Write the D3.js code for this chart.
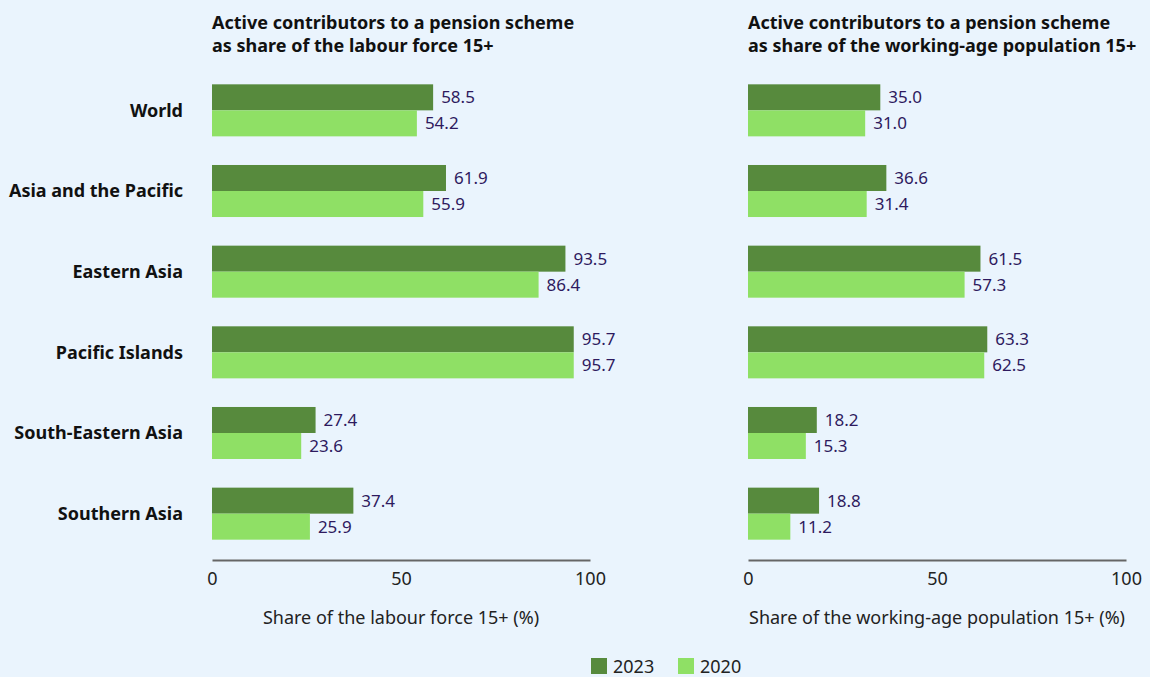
<!DOCTYPE html>
<html>
<head>
<meta charset="utf-8">
<script src="https://cdn.jsdelivr.net/npm/d3@7"></script>
<style>
  body { margin: 0; background: #eaf4fd; }
  svg { display: block; font-family: "Noto Sans", "Open Sans", sans-serif; }
</style>
</head>
<body>
<div id="chart"></div>
<script>
var width = 1150,
    height = 677;

var regions = ["World", "Asia and the Pacific", "Eastern Asia", "Pacific Islands", "South-Eastern Asia", "Southern Asia"];
var years = ["2023", "2020"];

// share of the labour force 15+
var labour2023 = [58.5, 61.9, 93.5, 95.7, 27.4, 37.4];
var labour2020 = [54.2, 55.9, 86.4, 95.7, 23.6, 25.9];

// share of the working-age population 15+
var working2023 = [35.0, 36.6, 61.5, 63.3, 18.2, 18.8];
var working2020 = [31.0, 31.4, 57.3, 62.5, 15.3, 11.2];

var xTicks = [0, 50, 100];

var colors = {"2023": "#578a3d", "2020": "#8fe065"};

var svg = d3.select("#chart").append("svg")
    .attr("width", width)
    .attr("height", height);

var y = d3.scaleBand()
    .domain(regions)
    .range([69, 555])
    .paddingInner(0.355)
    .paddingOuter(0.19);

var ySub = d3.scaleBand()
    .domain(years)
    .range([0, y.bandwidth()]);

// category labels
svg.append("g").selectAll("text")
    .data(regions)
  .enter().append("text")
    .attr("x", 183)
    .attr("y", function(d) { return y(d) + y.bandwidth() / 2; })
    .attr("dy", "0.35em")
    .attr("text-anchor", "end")
    .style("font-size", "18px")
    .style("font-weight", "bold")
    .style("fill", "#111")
    .text(function(d) { return d; });

function panel(x0, x1, title, axisTitle, v2023, v2020) {
  var x = d3.scaleLinear().domain([0, 100]).range([x0, x1]);
  var g = svg.append("g");

  var t = g.append("text")
      .attr("x", x0)
      .attr("y", 29)
      .style("font-size", "18px")
      .style("font-weight", "bold")
      .style("fill", "#111");
  t.append("tspan").attr("x", x0).text(title[0]);
  t.append("tspan").attr("x", x0).attr("dy", 23).text(title[1]);

  var rows = regions.map(function(r, i) {
    return [{region: r, year: "2023", value: v2023[i]}, {region: r, year: "2020", value: v2020[i]}];
  });
  rows = [].concat.apply([], rows);

  g.selectAll("rect")
      .data(rows)
    .enter().append("rect")
      .attr("x", x(0))
      .attr("y", function(d) { return y(d.region) + ySub(d.year); })
      .attr("width", function(d) { return x(d.value) - x(0); })
      .attr("height", ySub.bandwidth())
      .attr("fill", function(d) { return colors[d.year]; });

  g.selectAll("text.val")
      .data(rows)
    .enter().append("text")
      .attr("class", "val")
      .attr("x", function(d) { return x(d.value) + 8; })
      .attr("y", function(d) { return y(d.region) + ySub(d.year) + ySub.bandwidth() / 2; })
      .attr("dy", "0.35em")
      .style("font-size", "17px")
      .style("fill", "#2e1a5e")
      .text(function(d) { return d.value.toFixed(1); });

  var axis = g.append("g")
      .attr("transform", "translate(0,560)")
      .call(d3.axisBottom(x).tickValues(xTicks).tickSize(0).tickPadding(12));
  axis.select(".domain").attr("stroke", "#666").attr("stroke-width", 2);
  axis.selectAll("text")
      .style("font-size", "18px")
      .style("font-family", "\"Noto Sans\", \"Open Sans\", sans-serif")
      .style("fill", "#222");

  g.append("text")
      .attr("x", (x0 + x1) / 2)
      .attr("y", 624)
      .attr("text-anchor", "middle")
      .style("font-size", "18px")
      .style("fill", "#222")
      .text(axisTitle);
}

panel(212, 590,
  ["Active contributors to a pension scheme", "as share of the labour force 15+"],
  "Share of the labour force 15+ (%)", labour2023, labour2020);

panel(748, 1126,
  ["Active contributors to a pension scheme", "as share of the working-age population 15+"],
  "Share of the working-age population 15+ (%)", working2023, working2020);

// legend
var legend = svg.append("g").selectAll("g")
    .data(years)
  .enter().append("g")
    .attr("transform", function(d, i) { return "translate(" + (591 + i * 87) + ",658)"; });
legend.append("rect")
    .attr("width", 16)
    .attr("height", 16)
    .attr("fill", function(d) { return colors[d]; });
legend.append("text")
    .attr("x", 22)
    .attr("y", 15)
    .style("font-size", "18px")
    .style("fill", "#222")
    .text(function(d) { return d; });
</script>
</body>
</html>
